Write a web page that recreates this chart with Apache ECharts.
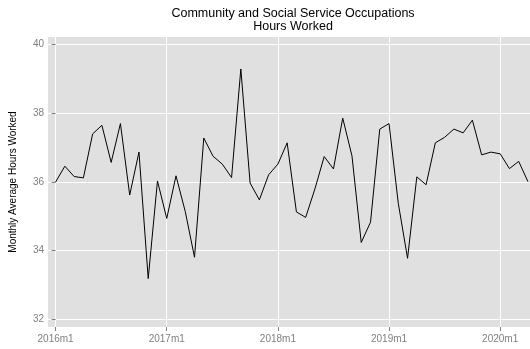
<!DOCTYPE html>
<html>
<head>
<meta charset="utf-8">
<script src="https://cdn.jsdelivr.net/npm/echarts@6/dist/echarts.min.js"></script>
<style>html,body{margin:0;padding:0;background:#fff}#c{width:530px;height:349px}</style>
</head>
<body>
<div id="c"></div>
<script>
// Month labels 2016m1 .. 2020m4
const months = [];
for (let y = 2016; y <= 2020; y++) for (let m = 1; m <= 12; m++) months.push(y + 'm' + m);
const categories = months.slice(0, 52);

const hours = [
  36.00, 36.46, 36.16, 36.12, 37.40, 37.65, 36.57, 37.70, 35.62, 36.87, 33.19, 36.03,
  34.94, 36.18, 35.14, 33.81, 37.28, 36.75, 36.52, 36.13, 39.29, 35.97, 35.48, 36.21,
  36.52, 37.14, 35.13, 34.97, 35.80, 36.74, 36.38, 37.86, 36.76, 34.24, 34.83, 37.54,
  37.70, 35.38, 33.78, 36.15, 35.92, 37.14, 37.30, 37.54, 37.43, 37.80, 36.79, 36.87,
  36.82, 36.39, 36.60, 36.01
];

const xTickIdx = [0, 12, 24, 36, 48];
const yTicks = [32, 34, 36, 38, 40];

const data = hours.map((v, i) => [i, v]);

const chart = echarts.init(document.getElementById('c'));
chart.setOption({
  animation: false,
  backgroundColor: '#ffffff',
  title: {
    text: 'Community and Social Service Occupations\nHours Worked',
    left: 288, top: 2, textAlign: 'center',
    textStyle: { fontFamily: 'Liberation Sans', fontSize: 12.5, fontWeight: 'normal', color: '#000', lineHeight: 13 }
  },
  grid: {
    left: 46, right: 0, top: 37, bottom: 22,
    show: true, backgroundColor: '#e0e0e0', borderWidth: 0
  },
  xAxis: {
    type: 'value', min: -0.82, max: 51.22,
    axisLine: { show: false },
    axisTick: { show: true, length: 4, customValues: xTickIdx, lineStyle: { color: '#7f7f7f' } },
    axisLabel: {
      customValues: xTickIdx, margin: 7,
      formatter: v => categories[Math.round(v)],
      fontFamily: 'Liberation Sans', fontSize: 10, color: '#7f7f7f'
    },
    splitLine: { show: true, lineStyle: { color: '#ffffff', width: 1 } }
  },
  yAxis: {
    type: 'value', min: 31.78, max: 40.22,
    name: 'Monthly Average Hours Worked', nameLocation: 'middle', nameGap: 30,
    nameTextStyle: { fontFamily: 'Liberation Sans', fontSize: 10, color: '#000' },
    axisLine: { show: false },
    axisTick: { show: true, length: 4, customValues: yTicks, lineStyle: { color: '#7f7f7f' } },
    axisLabel: {
      customValues: yTicks, margin: 4,
      fontFamily: 'Liberation Sans', fontSize: 10, color: '#7f7f7f'
    },
    splitLine: { show: true, lineStyle: { color: '#ffffff', width: 1 } }
  },
  series: [{
    type: 'line', data: data, showSymbol: false,
    lineStyle: { color: '#000', width: 1 }
  }]
});
</script>
</body>
</html>
